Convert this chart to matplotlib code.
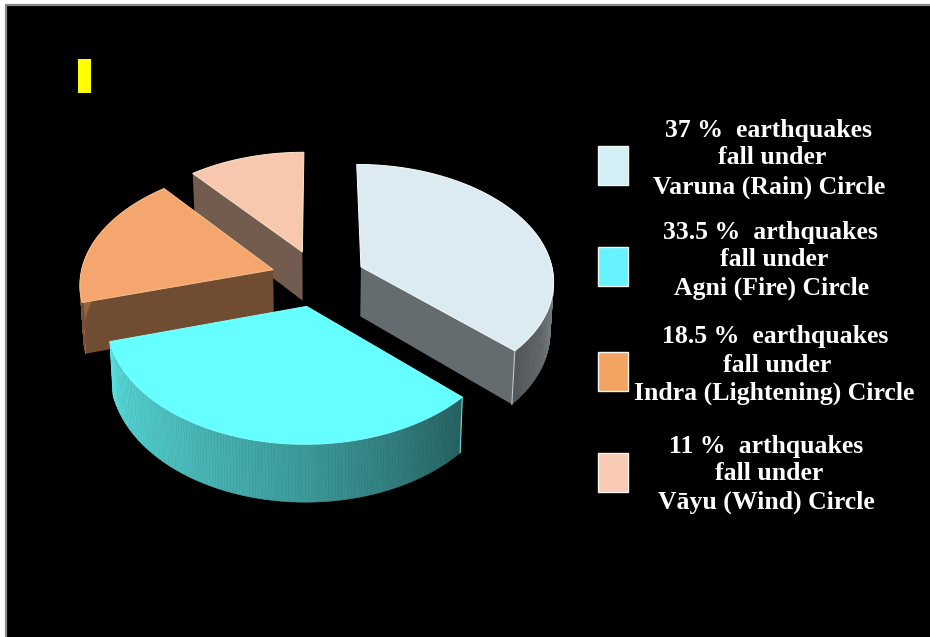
import numpy as np
import matplotlib
matplotlib.use("Agg")
import matplotlib.pyplot as plt
from matplotlib.colors import to_rgb
from matplotlib.patches import Polygon, Rectangle
from matplotlib.collections import PolyCollection

# shares in percent, clockwise from 12 o'clock
shares = [37, 33.5, 18.5, 11]
top_colors = ["#DCEAF2", "#66FFFF", "#F4A66E", "#F8C8AE"]
swatch_colors = ["#D2F0F6", "#66F2FF", "#F4A462", "#F9CBB4"]
legend_lines = [
    ["37 %  earthquakes", "fall under", "Varuna (Rain) Circle"],
    ["33.5 %  arthquakes", "fall under", "Agni (Fire) Circle"],
    ["18.5 %  earthquakes", "fall under", "Indra (Lightening) Circle"],
    ["11 %  arthquakes", "fall under", "Vāyu (Wind) Circle"],
]

# pie projection
CX, CY = 318, 278
RX, RY = 193, 116
KP = 0.11
DEPTH = 50
EXPLODE = 0.245


def project(X, Y, down=0.0):
    s = 1 / (1 + KP * Y)
    shrink = 1 - 0.015 * (down > 0)
    return CX + RX * X * s * shrink, CY - RY * Y * s + down * s


def rim_shade(deg):
    # side wall gets darker towards the right, then a little lighter again
    deg = (deg + 180) % 360 - 180
    return np.interp(deg, [-180, -165, -163.8, -90, -43, 0, 180], [0.48, 0.48, 0.88, 0.6, 0.38, 0.6, 0.6])


fig = plt.figure(figsize=(9.3, 6.37), dpi=100, facecolor="white")
ax = fig.add_axes([0, 0, 1, 1])
ax.set_xlim(0, 930)
ax.set_ylim(637, 0)
ax.axis("off")

ax.add_patch(Rectangle((6, 5), 930, 640, fc="black", ec="#8a8a8a", lw=1.6, zorder=0))
ax.add_patch(Rectangle((78, 59), 13, 34, fc="#FFFF00", ec="none", zorder=1))

start = 90.0
wedges = []
for share, col in zip(shares, top_colors):
    sweep = share * 3.6
    wedges.append((start, start - sweep, col))
    start -= sweep

# back slices first so the front ones sit on top
order = sorted(range(len(wedges)), key=lambda i: np.sin(np.radians((wedges[i][0] + wedges[i][1]) / 2)), reverse=True)

z = 2
for i in order:
    a0, a1, col = wedges[i]
    mid = np.radians((a0 + a1) / 2)
    ox, oy = EXPLODE * np.cos(mid), EXPLODE * np.sin(mid)
    deg = np.linspace(a0, a1, 140)
    rad = np.radians(deg)
    X = ox + np.cos(rad)
    Y = oy + np.sin(rad)
    base = np.array(to_rgb(col))
    edge = np.clip(base * 1.05 + 0.08, 0, 1)

    # flat cut faces, only where they look towards the viewer
    faces = [(a0, np.sin(np.radians(a0 + 90)) < -1e-6), (a1, np.sin(np.radians(a1 - 90)) < -1e-6)]
    for ang, visible in faces:
        if not visible:
            continue
        r = np.radians(ang)
        ex, ey = ox + np.cos(r), oy + np.sin(r)
        quad = [project(ox, oy), project(ex, ey), project(ex, ey, DEPTH), project(ox, oy, DEPTH)]
        ax.add_patch(Polygon(quad, fc=base * 0.46, ec="none", zorder=z))

    # outer wall as thin strips so the shading can run along it
    tx, ty = project(X, Y)
    bx, by = project(X, Y, DEPTH)
    strips = []
    cols = []
    for j in range(len(deg) - 1):
        if np.sin(rad[j]) > 0.3:
            continue
        strips.append([(tx[j], ty[j]), (tx[j + 1], ty[j + 1]), (bx[j + 1], by[j + 1]), (bx[j], by[j])])
        cols.append(np.clip(base * rim_shade((deg[j] + deg[j + 1]) / 2), 0, 1))
    if strips:
        ax.add_collection(PolyCollection(strips, facecolors=cols, edgecolors=cols, linewidths=0.4, zorder=z + 1))

    # lit vertical edge where a slice ends on the right front
    for ang in (a0, a1):
        r = np.radians(ang)
        if np.cos(r) > 0 and np.sin(r) < 0:
            ex, ey = ox + np.cos(r), oy + np.sin(r)
            x0, y0 = project(ex, ey)
            x1, y1 = project(ex, ey, DEPTH)
            ax.plot([x0, x1], [y0, y1], color=np.clip(base * 0.75 + 0.1, 0, 1), lw=0.8, zorder=z + 1)

    px, py = project(ox, oy)
    ax.add_patch(Polygon(np.r_[[[px, py]], np.c_[tx, ty]], fc=col, ec=edge, lw=0.7, zorder=z + 2))
    z += 3

tops = [146, 247, 352, 453]
line_ys = [(130, 158, 187), (233, 260, 288), (337, 365, 393), (446, 474, 502)]
line_xs = [(768, 772, 769), (770, 774, 772), (775, 777, 774), (766, 769, 766)]
for top, col, lines, ys, xs in zip(tops, swatch_colors, legend_lines, line_ys, line_xs):
    ax.add_patch(Rectangle((598, top), 30, 39, fc=col, ec="#F4F4F0", lw=1, zorder=z))
    for txt, y, x in zip(lines, ys, xs):
        ax.text(x, y, txt, color="white", fontsize=18.5, fontweight="bold", family="Liberation Serif",
                ha="center", va="center", zorder=z)

fig.savefig("out.png", dpi=100, facecolor="white")
